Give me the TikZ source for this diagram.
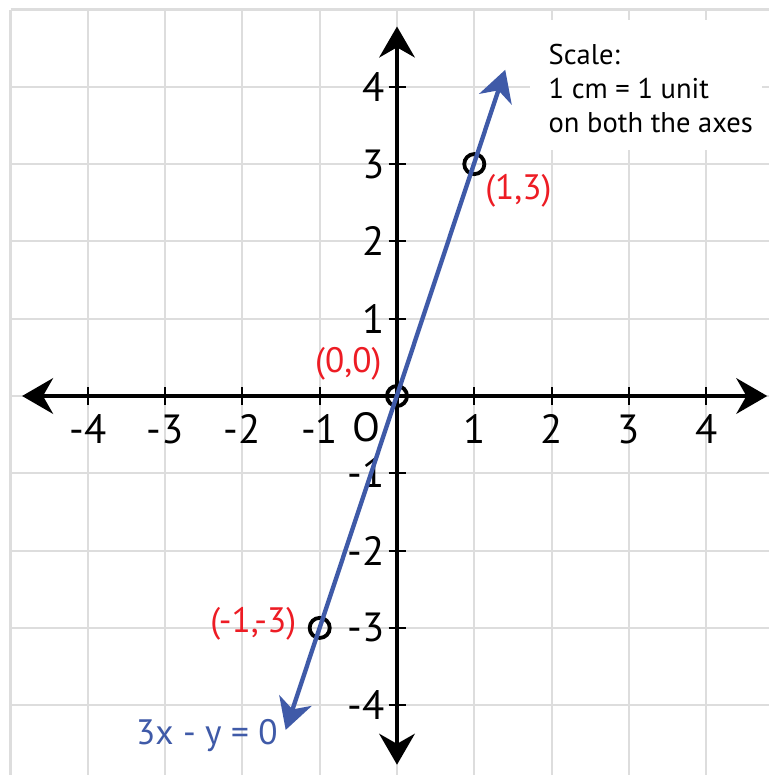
\documentclass[tikz,border=0pt]{standalone}
\usepackage{fontspec}
\setmainfont{PT Sans}
\usetikzlibrary{arrows.meta}
\definecolor{gridgray}{HTML}{DDDDDD}
\definecolor{lineblue}{HTML}{3F5AA8}
\definecolor{ptred}{HTML}{ED1C24}
\tikzset{
  gridline/.style={gridgray, line width=0.75pt},
  axisline/.style={black, line width=1.5pt, {Stealth[length=0.4cm,width=0.46cm,inset=0.13cm]}-{Stealth[length=0.4cm,width=0.46cm,inset=0.13cm]}},
  tickmark/.style={black, line width=0.8pt},
  ticklabel/.style={font=\fontsize{15}{17}\selectfont, inner sep=1pt},
  ptcircle/.style={circle, draw=black, line width=1.4pt, minimum size=0.26cm, inner sep=0pt},
  blueline/.style={lineblue, line width=1.6pt, {Stealth[length=0.4cm,width=0.44cm,inset=0.12cm]}-{Stealth[length=0.4cm,width=0.44cm,inset=0.12cm]}},
  redlabel/.style={ptred, font=\fontsize{13}{15}\selectfont, inner sep=1pt},
  scalebox/.style={fill=white, align=left, anchor=north west, inner sep=0pt, font=\fontsize{10.5}{12.6}\selectfont}
}
\begin{document}
\begin{tikzpicture}
\useasboundingbox (-5.136,-4.903) rectangle (4.812,5.123);
\fill[white] (-5.136,-4.903) rectangle (4.812,5.123);
% grid
\foreach \x in {-5,...,4} \draw[gridline] (\x,5) -- (\x,-4.903);
\foreach \y in {-4,...,5} \draw[gridline] (-5,\y) -- (4.812,\y);
% scale box
\fill[white] (1.72,4.86) rectangle (4.72,3.18);
\node[scalebox] (scale) at (1.955,4.56) {Scale:\\1 cm = 1 unit\\on both the axes};
% axes
\coordinate (xl) at (-4.85,0);
\coordinate (xr) at (4.79,0);
\coordinate (yt) at (0,4.78);
\coordinate (yb) at (0,-4.77);
\draw[axisline] (xl) -- (xr);
\draw[axisline] (yb) -- (yt);
% ticks and labels
\foreach \x in {-4,-3,-2,-1,1,2,3,4} {
  \draw[tickmark] (\x,0.11) -- (\x,-0.11);
  \node[ticklabel, anchor=north] (tx\x) at (\x,-0.2) {\x};
}
\foreach \y in {-4,-3,-2,-1,1,2,3,4} {
  \draw[tickmark] (-0.11,\y) -- (0.11,\y);
  \node[ticklabel, anchor=east] (ty\y) at (-0.12,\y) {\y};
}
\node[ticklabel] (O) at (-0.39,-0.41) {O};
% points
\node[ptcircle] (p13) at (1,3) {};
\node[ptcircle] (p00) at (0,0) {};
\node[ptcircle] (pm) at (-1,-3) {};
% line
\coordinate (lb) at (-1.44,-4.32);
\coordinate (lt) at (1.40,4.22);
\draw[blueline] (lb) -- (lt);
% labels
\node[redlabel] (l13) at (1.57,2.66) {(1,3)};
\node[redlabel] (l00) at (-0.63,0.41) {(0,0)};
\node[redlabel] (lm) at (-1.86,-2.95) {(-1,-3)};
\node[lineblue, font=\fontsize{13}{15}\selectfont] (eq) at (-2.46,-4.39) {3x - y = 0};
\end{tikzpicture}
\end{document}
